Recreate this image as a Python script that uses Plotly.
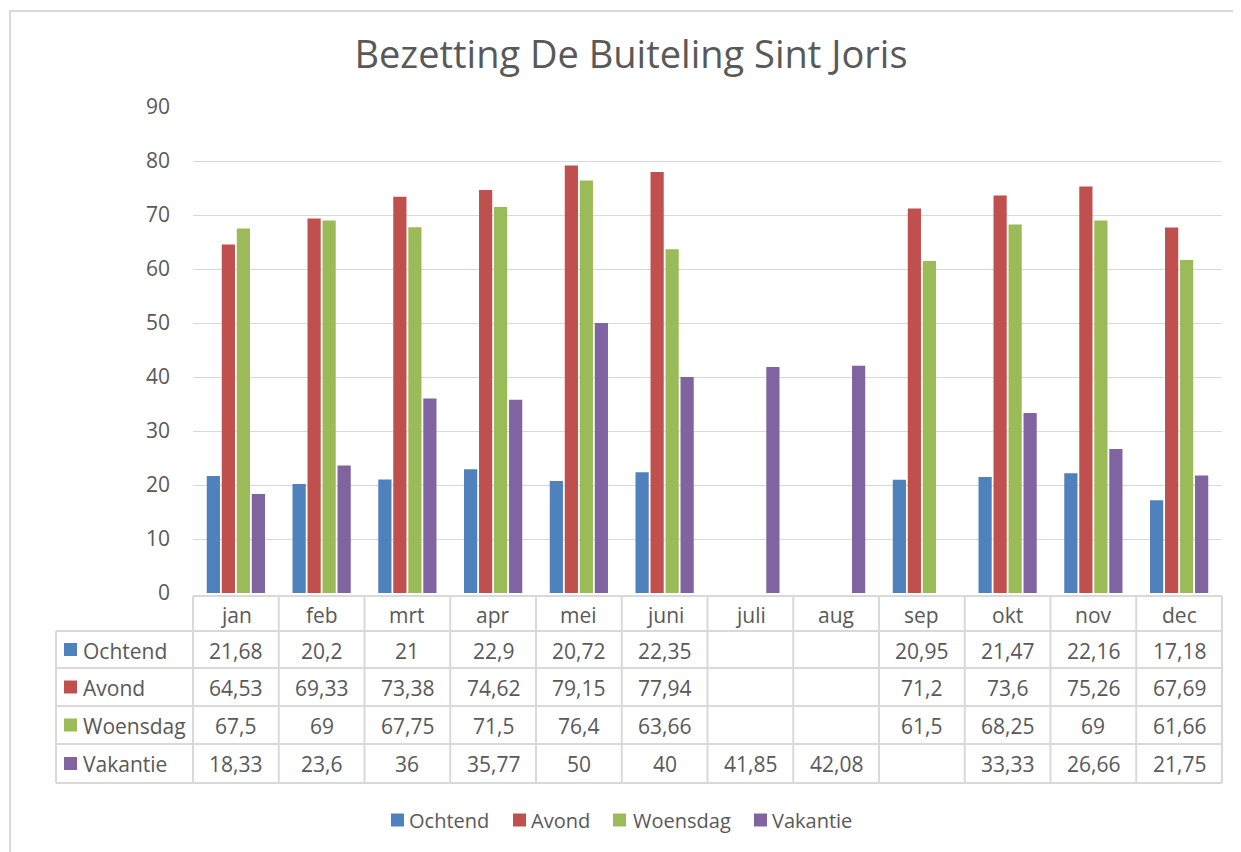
import plotly.graph_objects as go

months = ["jan", "feb", "mrt", "apr", "mei", "juni", "juli", "aug", "sep", "okt", "nov", "dec"]
ochtend = [21.68, 20.2, 21, 22.9, 20.72, 22.35, None, None, 20.95, 21.47, 22.16, 17.18]
avond = [64.53, 69.33, 73.38, 74.62, 79.15, 77.94, None, None, 71.2, 73.6, 75.26, 67.69]
woensdag = [67.5, 69, 67.75, 71.5, 76.4, 63.66, None, None, 61.5, 68.25, 69, 61.66]
vakantie = [18.33, 23.6, 36, 35.77, 50, 40, 41.85, 42.08, None, 33.33, 26.66, 21.75]
y_ticks = [0, 10, 20, 30, 40, 50, 60, 70, 80, 90]

series = [
    ("Ochtend", ochtend, "#4F81BD"),
    ("Avond", avond, "#C0504D"),
    ("Woensdag", woensdag, "#9BBB59"),
    ("Vakantie", vakantie, "#8064A2"),
]

OFF = 8  # page body margin
W, H = 1241 - OFF, 852 - OFF
PL, PR, PT, PB = 193, 1222, 107, 593  # plot area in page pixels
pw, ph = PR - PL, PB - PT

def px(x):
    return (x - PL) / pw

def py(y):
    return (PB - y) / ph

TXT = "#595959"
GRID = "#D9D9D9"
FONT = "Open Sans, Noto Sans, sans-serif"
FS = 21

fig = go.Figure()
for name, vals, col in series:
    fig.add_trace(go.Bar(x=months, y=vals, name=name, marker_color=col,
                         marker_line_width=0, showlegend=False))

shapes = []
annotations = []

# outer chart border
shapes.append(dict(type="rect", xref="paper", yref="paper",
                   x0=px(10), x1=px(1260), y0=py(870), y1=py(11),
                   line=dict(color=GRID, width=2), layer="below"))

# data table geometry
row_tops = [596, 631, 668, 706, 744, 783]
left_col = 56
ncat = len(months)
cw = pw / ncat

shapes.append(dict(type="line", xref="paper", yref="paper",
                   x0=px(PL), x1=px(PR), y0=py(row_tops[0]), y1=py(row_tops[0]),
                   line=dict(color=GRID, width=2)))
for yy in row_tops[1:]:
    shapes.append(dict(type="line", xref="paper", yref="paper",
                       x0=px(left_col), x1=px(PR), y0=py(yy), y1=py(yy),
                       line=dict(color=GRID, width=2)))
shapes.append(dict(type="line", xref="paper", yref="paper",
                   x0=px(left_col), x1=px(left_col), y0=py(row_tops[1]), y1=py(row_tops[-1]),
                   line=dict(color=GRID, width=2)))
for i in range(ncat + 1):
    xx = PL + i * cw
    shapes.append(dict(type="line", xref="paper", yref="paper",
                       x0=px(xx), x1=px(xx), y0=py(row_tops[0]), y1=py(row_tops[-1]),
                       line=dict(color=GRID, width=2)))

def fmt(v):
    return "" if v is None else f"{v:g}".replace(".", ",")

def key(name, col, sq_x, text_x, yc, size):
    shapes.append(dict(type="rect", xref="paper", yref="paper",
                       x0=px(sq_x), x1=px(sq_x + 13), y0=py(yc + 6.5), y1=py(yc - 6.5),
                       fillcolor=col, line=dict(width=0)))
    annotations.append(dict(x=px(text_x - 2), xref="paper", y=py(yc + 1), yref="paper",
                            text=name, showarrow=False, xanchor="left", yanchor="middle",
                            font=dict(size=size, color=TXT, family=FONT)))

for m in months:
    annotations.append(dict(x=m, xref="x", y=py((row_tops[0] + row_tops[1]) / 2 + 1), yref="paper",
                            text=m, showarrow=False, xanchor="center", yanchor="middle",
                            font=dict(size=FS, color=TXT, family=FONT)))
for r, (name, vals, col) in enumerate(series):
    ycp = (row_tops[r + 1] + row_tops[r + 2]) / 2
    key(name, col, 64, 83, ycp, FS)
    for m, v in zip(months, vals):
        if v is None:
            continue
        annotations.append(dict(x=m, xref="x", y=py(ycp + 1), yref="paper",
                                text=fmt(v), showarrow=False, xanchor="center", yanchor="middle",
                                font=dict(size=FS, color=TXT, family=FONT)))

# bottom legend
legend_sq = [391, 513, 613, 754]
legend_tx = [409, 531, 633, 772]
for (name, vals, col), sx, tx in zip(series, legend_sq, legend_tx):
    key(name, col, sx, tx, 820, 20)

fig.update_layout(
    width=W, height=H,
    margin=dict(l=PL - OFF, r=W + OFF - PR, t=PT - OFF, b=H + OFF - PB, pad=0),
    paper_bgcolor="white", plot_bgcolor="white",
    title=dict(text="Bezetting De Buiteling Sint Joris", x=px(631), xanchor="center",
               y=1 - (55 - OFF) / H, yanchor="middle", xref="paper",
               font=dict(size=38, color=TXT, family=FONT)),
    barmode="group", bargap=0.3, bargroupgap=0.12,
    showlegend=False,
    xaxis=dict(showticklabels=False, showgrid=False, zeroline=False, showline=False,
               ticks=""),
    yaxis=dict(range=[0, 90], tickvals=y_ticks, showgrid=True, gridcolor=GRID, gridwidth=1,
               zeroline=False, showline=False, ticks="", ticklabelstandoff=22,
               tickfont=dict(size=FS, color=TXT, family=FONT)),
    shapes=shapes, annotations=annotations,
)

fig.write_html("out.html")
